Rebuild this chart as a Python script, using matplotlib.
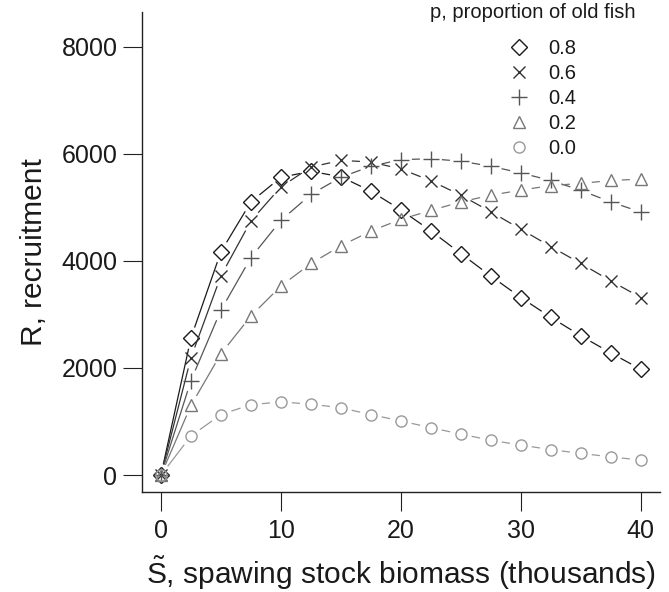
import numpy as np
import matplotlib
matplotlib.use("Agg")
import matplotlib.pyplot as plt
from matplotlib.collections import LineCollection

plt.rcParams['font.family'] = ['Liberation Sans', 'DejaVu Sans']
plt.rcParams['mathtext.fontset'] = 'custom'
plt.rcParams['mathtext.rm'] = 'Liberation Sans'

# spawning stock biomass (thousands)
S = [0, 2.5, 5, 7.5, 10, 12.5, 15, 17.5, 20, 22.5, 25, 27.5, 30, 32.5, 35, 37.5, 40]

# recruitment for each proportion of old fish
r08 = [0, 2560, 4170, 5100, 5560, 5670, 5570, 5300, 4950, 4560, 4135, 3715, 3315, 2945, 2600, 2280, 1975]
r06 = [0, 2190, 3720, 4745, 5380, 5750, 5875, 5845, 5715, 5495, 5225, 4915, 4590, 4265, 3950, 3625, 3315]
r04 = [0, 1765, 3080, 4060, 4755, 5240, 5560, 5765, 5890, 5905, 5860, 5765, 5640, 5500, 5315, 5100, 4910]
r02 = [0, 1300, 2265, 2970, 3530, 3950, 4280, 4555, 4775, 4940, 5100, 5225, 5320, 5405, 5445, 5500, 5525]
r00 = [0, 730, 1130, 1315, 1365, 1325, 1255, 1130, 1010, 885, 765, 650, 560, 475, 405, 340, 280]

labels = ['0.8', '0.6', '0.4', '0.2', '0.0']
series = [r08, r06, r04, r02, r00]
markers = ['D', 'x', '+', '^', 'o']
sizes = [8, 8, 11, 9, 8]
colors = ['#1a1a1a', '#333333', '#555555', '#777777', '#999999']

xticks = [0, 10, 20, 30, 40]
yticks = [0, 2000, 4000, 6000, 8000]

fig = plt.figure(figsize=(6.69, 5.92), dpi=100)
ax = fig.add_axes([142 / 669, 1 - 492 / 592, (660 - 142) / 669, (492 - 11.7) / 592])
ax.set_xlim(-1.58, 41.6)
ax.set_ylim(-316, 8651)


def gapped_segments(ax, x, y, gap):
    # R type="b": segments stop short of the points
    pts = ax.transData.transform(np.column_stack([x, y]))
    inv = ax.transData.inverted()
    segs = []
    for a, b in zip(pts[:-1], pts[1:]):
        d = b - a
        L = np.hypot(d[0], d[1])
        if L <= 2 * gap:
            continue
        u = d / L
        segs.append(inv.transform(np.array([a + u * gap, b - u * gap])))
    return segs


for r, lab, m, ms, c in zip(series, labels, markers, sizes, colors):
    segs = gapped_segments(ax, S, r, 11)
    ax.add_collection(LineCollection(segs, colors=c, linewidths=0.9))
    ax.plot(S, r, ls='none', marker=m, ms=ms, mfc='none', mec=c, mew=1.0,
            label=lab)

for side in ['top', 'right']:
    ax.spines[side].set_visible(False)
for side in ['left', 'bottom']:
    ax.spines[side].set_linewidth(1.0)
    ax.spines[side].set_color('#222222')

ax.set_xticks(xticks)
ax.set_yticks(yticks)
ax.tick_params(axis='both', length=13.7, width=0.8, color='#222222',
               labelsize=18, labelcolor='#1a1a1a')
ax.tick_params(axis='x', pad=6)
ax.tick_params(axis='y', pad=4)

ax.set_xlabel(r'$\tilde{\mathrm{S}}$, spawing stock biomass (thousands)',
              fontsize=21.5, color='#1a1a1a', labelpad=8)
ax.set_ylabel('R, recruitment', fontsize=21.5, color='#1a1a1a', labelpad=10)

# legend title drawn separately so the gap to the entries matches
fig.text(533 / 669, 1 - 12 / 592, 'p, proportion of old fish', ha='center',
         va='center', fontsize=14.5, color='#1a1a1a')
leg = ax.legend(loc='upper left', bbox_to_anchor=(507 / 669, 1 - 39 / 592),
                bbox_transform=fig.transFigure, frameon=False,
                fontsize=14.5, borderpad=0, borderaxespad=0,
                handlelength=1.2, handletextpad=0.85, labelspacing=0.3)
for t in leg.get_texts():
    t.set_color('#1a1a1a')

fig.savefig('out.png', dpi=100)
